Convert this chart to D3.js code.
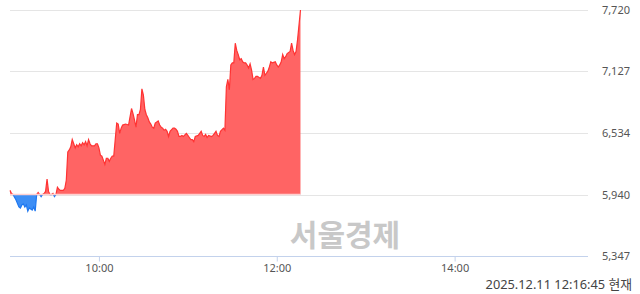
<!DOCTYPE html>
<html lang="ko">

<head>
    <meta charset="UTF-8">
    <title>intraday</title>
    <script src="https://d3js.org/d3.v7.min.js"></script>
    <style>
        body {
            margin: 0;
            background: #fff;
        }

        .tick-label {
            font-family: "Noto Sans", "Noto Sans CJK KR", sans-serif;
            font-size: 11px;
            fill: #555;
        }
    </style>
</head>

<body>
    <div class="chart"></div>

    <script>
        // prices by minute, 09:00 - 12:16
        var times = ['09:00', '09:01', '09:02', '09:04', '09:06', '09:07', '09:08', '09:09', '09:10', '09:11',
            '09:12', '09:13', '09:15', '09:16', '09:17', '09:18', '09:19', '09:20', '09:21', '09:22',
            '09:23', '09:24', '09:25', '09:26', '09:27', '09:28', '09:29', '09:30', '09:31', '09:32',
            '09:33', '09:34', '09:36', '09:37', '09:38', '09:39', '09:40', '09:41', '09:42', '09:43',
            '09:44', '09:45', '09:46', '09:47', '09:48', '09:49', '09:50', '09:51', '09:52', '09:53',
            '09:54', '09:55', '09:57', '09:58', '09:59', '10:00', '10:01', '10:02', '10:04', '10:05',
            '10:06', '10:07', '10:08', '10:09', '10:10', '10:11', '10:12', '10:13', '10:14', '10:15',
            '10:16', '10:18', '10:20', '10:22', '10:23', '10:24', '10:25', '10:26', '10:27', '10:28',
            '10:29', '10:30', '10:31', '10:32', '10:33', '10:34', '10:35', '10:36', '10:37', '10:38',
            '10:40', '10:41', '10:42', '10:43', '10:44', '10:45', '10:46', '10:47', '10:48', '10:50',
            '10:51', '10:52', '10:53', '10:54', '10:55', '10:56', '10:57', '10:59', '11:00', '11:01',
            '11:02', '11:03', '11:04', '11:05', '11:07', '11:08', '11:09', '11:10', '11:11', '11:12',
            '11:13', '11:14', '11:16', '11:17', '11:18', '11:19', '11:20', '11:21', '11:22', '11:24',
            '11:25', '11:26', '11:27', '11:28', '11:29', '11:30', '11:31', '11:32', '11:33', '11:34',
            '11:35', '11:36', '11:37', '11:38', '11:39', '11:40', '11:41', '11:42', '11:43', '11:44',
            '11:45', '11:46', '11:47', '11:49', '11:50', '11:51', '11:52', '11:53', '11:54', '11:55',
            '11:56', '11:57', '11:59', '12:00', '12:01', '12:02', '12:03', '12:04', '12:05', '12:06',
            '12:07', '12:09', '12:10', '12:11', '12:12', '12:13', '12:14', '12:16'];
        var prices = [5980, 5950, 5940, 5890, 5820, 5810, 5840, 5850, 5820, 5840,
            5780, 5810, 5790, 5820, 5780, 5940, 5960, 5940, 5920, 5940,
            5950, 5970, 6090, 5970, 5940, 5940, 5950, 5920, 5940, 6010,
            5990, 5980, 5980, 6000, 6080, 6350, 6370, 6400, 6470, 6430,
            6390, 6420, 6400, 6430, 6410, 6440, 6420, 6450, 6410, 6470,
            6430, 6410, 6410, 6430, 6430, 6390, 6320, 6310, 6230, 6290,
            6290, 6260, 6290, 6310, 6310, 6470, 6630, 6620, 6530, 6580,
            6610, 6620, 6610, 6770, 6720, 6660, 6590, 6710, 6710, 6760,
            6960, 6900, 6760, 6710, 6680, 6640, 6620, 6590, 6580, 6630,
            6650, 6610, 6590, 6580, 6560, 6570, 6550, 6500, 6550, 6580,
            6580, 6570, 6550, 6500, 6500, 6510, 6500, 6530, 6510, 6490,
            6470, 6470, 6450, 6500, 6510, 6530, 6550, 6510, 6500, 6520,
            6490, 6510, 6500, 6510, 6530, 6550, 6510, 6500, 6550, 6580,
            6560, 6980, 7050, 6950, 7190, 7210, 7210, 7400, 7330, 7290,
            7240, 7250, 7220, 7210, 7210, 7190, 7160, 7200, 7140, 7050,
            7060, 7080, 7080, 7060, 7090, 7170, 7090, 7110, 7130, 7170,
            7220, 7210, 7220, 7190, 7170, 7190, 7220, 7290, 7250, 7270,
            7300, 7320, 7400, 7330, 7290, 7320, 7430, 7720];
        var basePrice = 5940;
        var yTicks = [5347, 5940, 6534, 7127, 7720];
        var xTicks = ['10:00', '12:00', '14:00'];
        var sessionStart = '09:00';
        var sessionEnd = '15:30';
        var stampText = '2025.12.11 12:16:45 현재';
        var watermark = '서울경제';

        var width = 640;
        var height = 294;
        var plotLeft = 10, plotRight = 588, plotTop = 10, plotBottom = 256;

        var parseTime = d3.timeParse('%H:%M');
        var data = times.map(function (t, i) {
            return { t: parseTime(t), v: prices[i] };
        });

        var svg = d3.select('.chart')
            .append('svg')
            .attr('width', width)
            .attr('height', height);

        var xscale = d3.scaleTime()
            .domain([parseTime(sessionStart), parseTime(sessionEnd)])
            .range([plotLeft, plotRight]);

        var yscale = d3.scaleLinear()
            .domain([yTicks[0], yTicks[yTicks.length - 1]])
            .range([plotBottom, plotTop]);

        var baseY = yscale(basePrice);

        // grid
        svg.append('g')
            .selectAll('line')
            .data(yTicks.slice(1))
            .enter()
            .append('line')
            .attr('x1', plotLeft)
            .attr('x2', plotRight)
            .attr('y1', function (d) { return Math.round(yscale(d)) + 0.5; })
            .attr('y2', function (d) { return Math.round(yscale(d)) + 0.5; })
            .attr('stroke', '#e5e5e5');

        // clip regions above / below previous close
        var defs = svg.append('defs');
        defs.append('clipPath').attr('id', 'clipUp')
            .append('rect')
            .attr('x', 0).attr('y', 0)
            .attr('width', width).attr('height', baseY);
        defs.append('clipPath').attr('id', 'clipDown')
            .append('rect')
            .attr('x', 0).attr('y', baseY)
            .attr('width', width).attr('height', height - baseY);

        var area = d3.area()
            .x(function (d) { return xscale(d.t); })
            .y0(baseY)
            .y1(function (d) { return yscale(d.v); });

        var line = d3.line()
            .x(function (d) { return xscale(d.t); })
            .y(function (d) { return yscale(d.v); });

        svg.append('path')
            .datum(data)
            .attr('d', area)
            .attr('fill', '#ff6464')
            .attr('clip-path', 'url(#clipUp)');

        svg.append('path')
            .datum(data)
            .attr('d', area)
            .attr('fill', '#3d8ef5')
            .attr('clip-path', 'url(#clipDown)');

        svg.append('path')
            .datum(data)
            .attr('d', line)
            .attr('fill', 'none')
            .attr('stroke', '#ff3333')
            .attr('stroke-width', 1.2)
            .attr('clip-path', 'url(#clipUp)');

        svg.append('path')
            .datum(data)
            .attr('d', line)
            .attr('fill', 'none')
            .attr('stroke', '#1f78f0')
            .attr('stroke-width', 1.2)
            .attr('clip-path', 'url(#clipDown)');

        // previous close line
        svg.append('line')
            .attr('x1', plotLeft).attr('x2', xscale(data[data.length - 1].t))
            .attr('y1', baseY).attr('y2', baseY)
            .attr('stroke', '#ffd0d0')
            .attr('stroke-width', 1.5);

        // watermark
        svg.append('text')
            .attr('x', 345)
            .attr('y', 246)
            .attr('text-anchor', 'middle')
            .style('font-family', '"Noto Sans CJK KR", sans-serif')
            .style('font-size', '30px')
            .style('font-weight', 'bold')
            .style('fill', '#c8c8c8')
            .text(watermark);

        // x axis
        var xaxis = d3.axisBottom(xscale)
            .tickValues(xTicks.map(parseTime))
            .tickFormat(d3.timeFormat('%H:%M'))
            .tickSize(5)
            .tickSizeOuter(0);

        var gx = svg.append('g')
            .attr('transform', 'translate(0,' + (plotBottom + 0.5) + ')')
            .call(xaxis);
        gx.select('.domain').attr('stroke', '#c3d2ec').attr('d', 'M' + plotLeft + ',0H' + plotRight);
        gx.selectAll('.tick line').attr('stroke', '#c3d2ec');
        gx.selectAll('.tick text')
            .attr('class', 'tick-label')
            .attr('dy', '0.9em')
            .attr('y', 6);

        // y labels on right
        svg.append('g')
            .selectAll('text')
            .data(yTicks)
            .enter()
            .append('text')
            .attr('class', 'tick-label')
            .attr('x', 630)
            .attr('y', function (d) { return yscale(d) + 4; })
            .attr('text-anchor', 'end')
            .text(function (d) { return d3.format(',')(d); });

        svg.append('text')
            .attr('x', 632)
            .attr('y', 289)
            .attr('text-anchor', 'end')
            .style('font-family', '"Noto Sans", "Noto Sans CJK KR", sans-serif')
            .style('font-size', '12.8px')
            .style('fill', '#444')
            .text(stampText);
    </script>
</body>

</html>
